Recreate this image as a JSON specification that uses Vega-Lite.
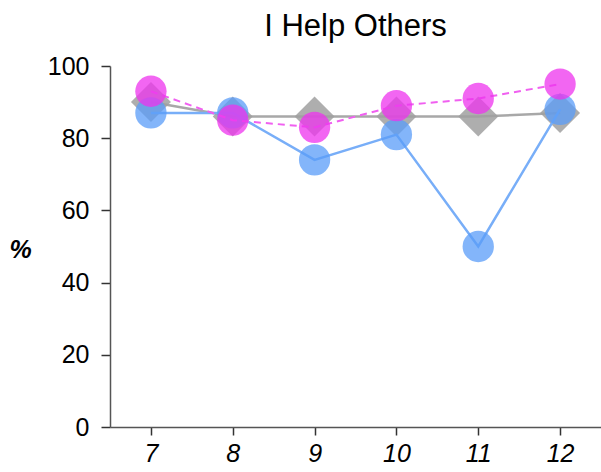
{
  "$schema": "https://vega.github.io/schema/vega-lite/v6.json",
  "width": 491,
  "height": 361,
  "autosize": {"type": "none"},
  "padding": {"left": 110, "top": 66, "right": 0, "bottom": 45},
  "background": "white",
  "title": {"text": "I Help Others", "fontSize": 31, "font": "Liberation Sans", "fontWeight": "normal", "color": "#000", "offset": 11},
  "config": {"view": {"stroke": null}},
  "data": {"values": [
    {"grade": "7", "series": "gray", "value": 90},
    {"grade": "8", "series": "gray", "value": 86},
    {"grade": "9", "series": "gray", "value": 86},
    {"grade": "10", "series": "gray", "value": 86},
    {"grade": "11", "series": "gray", "value": 86},
    {"grade": "12", "series": "gray", "value": 87},
    {"grade": "7", "series": "blue", "value": 87},
    {"grade": "8", "series": "blue", "value": 87},
    {"grade": "9", "series": "blue", "value": 74},
    {"grade": "10", "series": "blue", "value": 81},
    {"grade": "11", "series": "blue", "value": 50},
    {"grade": "12", "series": "blue", "value": 88},
    {"grade": "7", "series": "magenta", "value": 93},
    {"grade": "8", "series": "magenta", "value": 85},
    {"grade": "9", "series": "magenta", "value": 83},
    {"grade": "10", "series": "magenta", "value": 89},
    {"grade": "11", "series": "magenta", "value": 91},
    {"grade": "12", "series": "magenta", "value": 95}
  ]},
  "encoding": {
    "x": {"field": "grade", "type": "ordinal", "sort": ["7","8","9","10","11","12"],
      "scale": {"type": "point", "padding": 0.5},
      "axis": {"title": null, "labelAngle": 0, "labelFontSize": 25, "labelFont": "Liberation Sans", "labelFontStyle": "italic", "labelColor": "#000", "labelPadding": 6, "tickSize": 8, "tickColor": "#333", "domainColor": "#555", "domainWidth": 1.5, "tickWidth": 1.5, "grid": false}},
    "y": {"field": "value", "type": "quantitative",
      "scale": {"domain": [0, 100], "nice": false, "zero": true},
      "axis": {"title": "%", "titleAngle": 0, "titleX": -90, "titleY": 183, "titleAlign": "center", "titleBaseline": "middle", "titleFontSize": 25, "titleFont": "Liberation Sans", "titleFontStyle": "italic", "titleFontWeight": "bold", "titleColor": "#000",
        "values": [0, 20, 40, 60, 80, 100], "labelFontSize": 25, "labelFont": "Liberation Sans", "labelColor": "#000", "labelPadding": 12, "tickSize": 9, "tickColor": "#333", "domainColor": "#555", "domainWidth": 1.5, "tickWidth": 1.5, "grid": false}}
  },
  "layer": [
    {"transform": [{"filter": "datum.series === 'gray'"}], "mark": {"type": "line", "color": "#a8a8a8", "strokeWidth": 2.5}},
    {"transform": [{"filter": "datum.series === 'gray'"}], "mark": {"type": "point", "shape": "diamond", "filled": true, "size": 1600, "color": "#a0a0a0", "opacity": 0.85}},
    {"transform": [{"filter": "datum.series === 'blue'"}], "mark": {"type": "line", "color": "#78aef8", "strokeWidth": 2.5}},
    {"transform": [{"filter": "datum.series === 'blue'"}], "mark": {"type": "point", "shape": "circle", "filled": true, "size": 980, "color": "#5a9cf8", "opacity": 0.75}},
    {"transform": [{"filter": "datum.series === 'magenta'"}], "mark": {"type": "line", "color": "#f060f0", "strokeWidth": 2, "strokeDash": [7, 5]}},
    {"transform": [{"filter": "datum.series === 'magenta'"}], "mark": {"type": "point", "shape": "circle", "filled": true, "size": 980, "color": "#ee33ee", "opacity": 0.75}}
  ]
}
